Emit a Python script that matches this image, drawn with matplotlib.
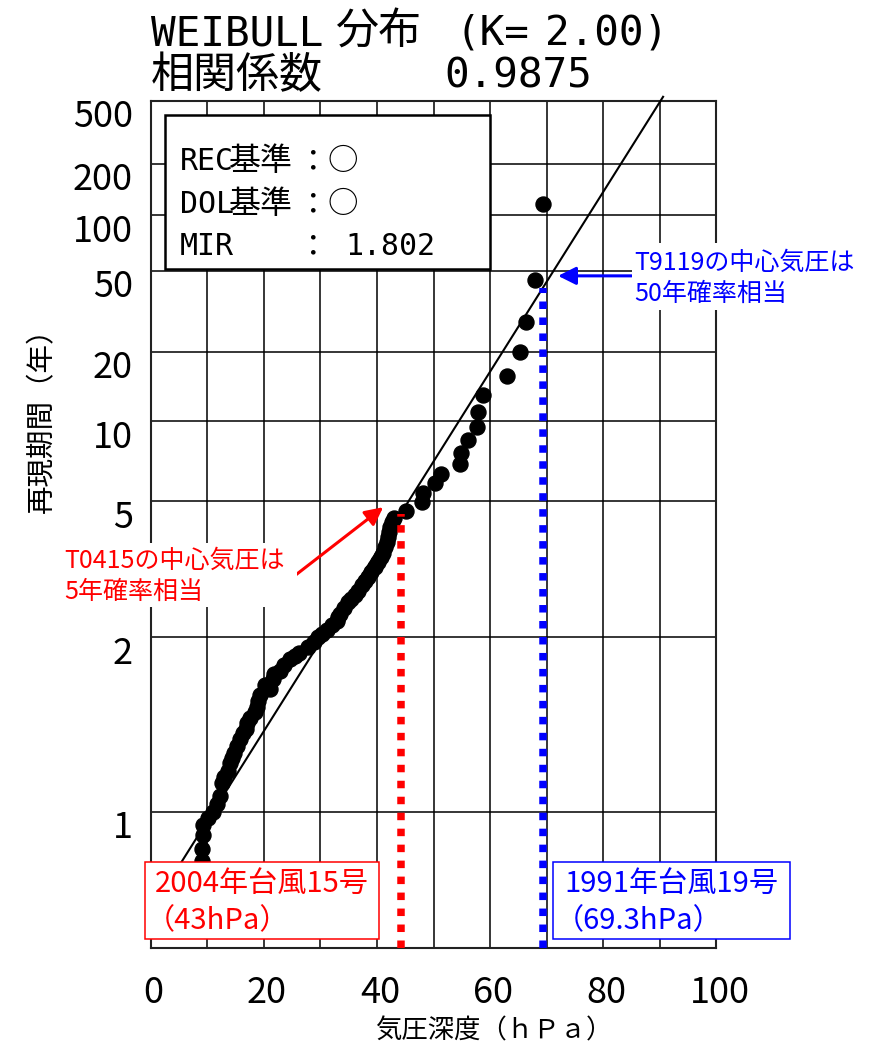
import numpy as np
import matplotlib.pyplot as plt
from matplotlib.patches import Rectangle
from matplotlib.transforms import ScaledTranslation

JP = ['Noto Sans CJK JP', 'DejaVu Sans']
MONO = ['DejaVu Sans Mono', 'Noto Sans CJK JP']
plt.rcParams['font.family'] = JP

# Weibull probability paper (Goda type), K = 2
K_SHAPE = 2.0
LAMBDA = 1.18      # mean rate of events per year
FIT_A = 37.32      # scale parameter (hPa)
FIT_B = -4.14      # location parameter (hPa)

# observed pressure depth (hPa) and plotted return period (years)
depth = [69.3, 68.0, 66.3, 65.3, 62.9, 58.7, 57.9, 57.7, 56.0, 54.8, 54.7,
         51.4, 50.2, 48.1, 47.9, 45.1, 43.0, 42.6, 42.3, 42.1, 42.0, 41.7,
         41.4, 41.0, 40.8, 40.2, 39.6, 39.0, 38.5, 37.9, 37.3, 36.7, 36.1,
         35.5, 34.9, 34.2, 33.5, 33.2, 32.9, 32.0, 31.1, 30.3, 29.6, 28.9,
         27.9, 26.2, 25.5, 24.6, 23.5, 22.9, 21.8, 21.6, 21.1, 20.3, 19.3,
         19.0, 18.8, 18.4, 17.6, 17.0, 16.8, 16.4, 15.8, 15.2, 14.8, 14.3,
         14.0, 13.6, 13.0, 12.6, 12.3, 11.7, 11.1, 10.2, 9.3, 9.3, 9.0, 9.0,
         8.7, 8.5]
period = [116, 44.6, 27.6, 20.0, 15.6, 12.8, 10.9, 9.5, 8.4, 7.5, 6.8,
          6.25, 5.78, 5.35, 4.96, 4.62, 4.40, 4.25, 4.09, 3.95, 3.80, 3.66,
          3.53, 3.40, 3.30, 3.18, 3.08, 2.98, 2.88, 2.80, 2.73, 2.64, 2.56,
          2.51, 2.46, 2.37, 2.29, 2.25, 2.20, 2.14, 2.08, 2.04, 2.00, 1.95,
          1.90, 1.84, 1.81, 1.78, 1.73, 1.68, 1.65, 1.61, 1.54, 1.57, 1.50,
          1.46, 1.42, 1.39, 1.36, 1.33, 1.30, 1.28, 1.25, 1.22, 1.19, 1.17,
          1.15, 1.12, 1.10, 1.08, 1.04, 1.02, 1.00, 0.985, 0.97, 0.95, 0.925,
          0.907, 0.89, 0.875]

yticks = [1, 2, 5, 10, 20, 50, 100, 200, 500]
xticks = [0, 20, 40, 60, 80, 100]

red_x = 44.2    # T0415 marker line
blue_x = 69.3   # T9119 marker line


def fwd(t):
    v = np.log(LAMBDA * np.clip(np.asarray(t, float), 1e-9, None))
    return np.sign(v) * np.abs(v) ** (1 / K_SHAPE)


def inv(u):
    u = np.asarray(u, float)
    return np.exp(np.sign(u) * np.abs(u) ** K_SHAPE) / LAMBDA


def fit_period(x):
    u = (np.asarray(x, float) - FIT_B) / FIT_A
    return inv(u)


W, H = 876, 1052
fig = plt.figure(figsize=(W / 100, H / 100), dpi=100)
ax = fig.add_axes([150.6 / W, 1 - 948.3 / H, 565.9 / W, 847.6 / H])
ax.set_yscale('function', functions=(fwd, inv))
ax.set_xlim(0, 100)
ax.set_ylim(1 / LAMBDA, 500)

ax.set_xticks(xticks)
ax.set_xticks([10, 30, 50, 70, 90], minor=True)
ax.set_xticklabels([str(v) for v in xticks], fontsize=26)
ax.set_yticks(yticks)
ax.set_yticklabels([str(v) for v in yticks], fontsize=26)
ax.tick_params(axis='both', which='both', length=0)
ax.tick_params(axis='y', pad=12.7)
ax.tick_params(axis='x', pad=19)
for lab in ax.get_yticklabels():
    lab.set_transform(lab.get_transform() + ScaledTranslation(0, -12.5 / 100, fig.dpi_scale_trans))
for lab in ax.get_xticklabels():
    lab.set_transform(lab.get_transform() + ScaledTranslation(3 / 100, 0, fig.dpi_scale_trans))

ax.grid(True, which='both', color='black', lw=1.1)
ax.set_axisbelow(True)
for s in ax.spines.values():
    s.set_linewidth(1.5)
    s.set_color('#222222')

# fitted Weibull line
u_line = np.array([0.2, 2.5375])
ax.plot(FIT_B + FIT_A * u_line, inv(u_line), color='black', lw=1.5, clip_on=False, zorder=3)

# data points
ax.plot(depth, period, 'o', color='black', ms=10.8, zorder=4)

# marker lines up to the fitted line
ax.plot([red_x, red_x], [1 / LAMBDA, fit_period(red_x)], color='red', lw=5.4,
        ls=(0, (1, 1.13)), zorder=5)
ax.plot([blue_x, blue_x], [1 / LAMBDA, fit_period(blue_x)], color='blue', lw=5.4,
        ls=(0, (1, 1.13)), zorder=5)

ax.annotate('', xy=(41.1, 4.77), xytext=(25.5, 2.91),
            arrowprops=dict(arrowstyle='-|>', color='red', lw=2.2, mutation_scale=27,
                            shrinkA=0, shrinkB=0), zorder=6)
ax.annotate('', xy=(72.0, 47.0), xytext=(85.0, 47.0),
            arrowprops=dict(arrowstyle='-|>', color='blue', lw=2.2, mutation_scale=27,
                            shrinkA=0, shrinkB=0), zorder=6)


def px(x, y):
    return x / W, 1 - y / H


def box(x0, y0, x1, y1, **kw):
    fig.add_artist(Rectangle((x0 / W, 1 - y1 / H), (x1 - x0) / W, (y1 - y0) / H,
                             transform=fig.transFigure, **kw))


# title
fig.text(*px(151, 45), 'WEIBULL', family=MONO, fontsize=29.5)
fig.text(*px(335, 45), '分布', family=MONO, fontsize=31)
fig.text(*px(455, 45), '(K=', family=MONO, fontsize=29.5)
fig.text(*px(545, 45), '2.00)', family=MONO, fontsize=29.5)
fig.text(*px(151, 88), '相関係数', family=MONO, fontsize=31)
fig.text(*px(444, 88), '0.9875', family=MONO, fontsize=29.5)

# criteria box
box(165, 115, 490, 269.3, facecolor='white', edgecolor='black', lw=1.8)
for name, cjk, val, base in [('REC', '基準', '○', 170), ('DOL', '基準', '○', 213), ('MIR', '', '1.802', 255)]:
    fig.text(*px(180, base), name, family=MONO, fontsize=21.5)
    if cjk:
        fig.text(*px(229, base), cjk, family=MONO, fontsize=23)
    fig.text(*px(312, base), '：', family=JP, fontsize=22, ha='center')
    if val == '○':
        fig.text(*px(343, base), val, family=JP, fontsize=22, ha='center')
    else:
        fig.text(*px(345, base), val, family=MONO, fontsize=21.5)

# notes
box(62, 543, 297, 607, facecolor='white', edgecolor='none')
fig.text(*px(64, 576), 'T0415の中心気圧は\n5年確率相当', color='red', fontsize=18,
         va='center', linespacing=1.25)
box(632, 243, 865, 310, facecolor='white', edgecolor='none')
fig.text(*px(634, 278), 'T9119の中心気圧は\n50年確率相当', color='blue', fontsize=18,
         va='center', linespacing=1.25)

box(145, 862, 379, 939, facecolor='white', edgecolor='red', lw=1.1)
fig.text(*px(155, 884), '2004年台風15号', color='red', fontsize=21, va='center')
fig.text(*px(146, 921.5), '（43hPa）', color='red', fontsize=21, va='center')
box(553, 862, 790, 939, facecolor='white', edgecolor='blue', lw=1.1)
fig.text(*px(564, 884), '1991年台風19号', color='blue', fontsize=21, va='center')
fig.text(*px(555, 921.5), '（69.3hPa）', color='blue', fontsize=21, va='center')

# axis labels
fig.text(*px(494, 1031), '気圧深度（ｈＰａ）', fontsize=19, ha='center', va='center')
fig.text(*px(42, 413), '再現期間（年）', fontsize=20.5, ha='center', va='center', rotation=90)

plt.savefig('out.png', dpi=100, facecolor='white')
plt.close(fig)
